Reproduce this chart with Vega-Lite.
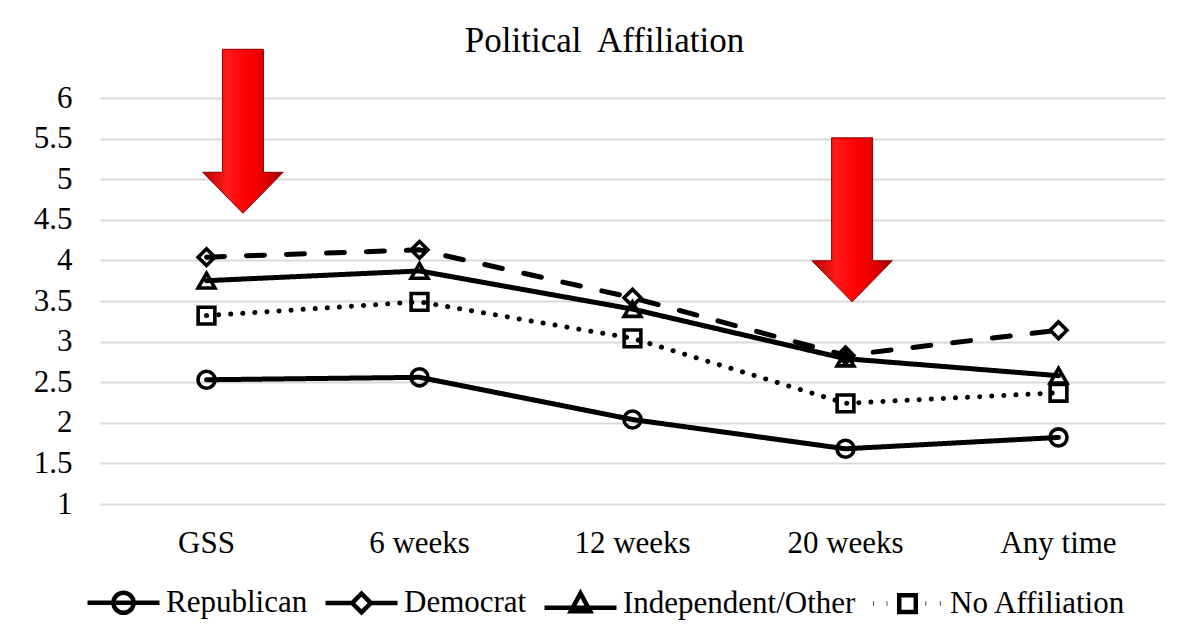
{
  "$schema": "https://vega.github.io/schema/vega-lite/v6.json",
  "autosize": {"type": "none"},
  "width": 1065,
  "height": 406,
  "padding": {"left": 100, "top": 98, "right": 36, "bottom": 137},
  "background": "white",
  "title": {
    "text": "Political\u00a0 Affiliation",
    "font": "Liberation Serif",
    "fontSize": 35,
    "fontWeight": "normal",
    "color": "black",
    "anchor": "middle",
    "frame": "group",
    "dx": -28,
    "offset": -40,
    "baseline": "alphabetic"
  },
  "config": {
    "view": {"stroke": null},
    "axis": {"labelFont": "Liberation Serif", "labelFontSize": 31, "labelColor": "black", "titleFont": "Liberation Serif"},
    "legend": {"labelFont": "Liberation Serif", "labelFontSize": 31, "labelColor": "black"}
  },
  "datasets": {
    "series": [
      {"time": "GSS", "group": "Republican", "value": 2.53},
      {"time": "6 weeks", "group": "Republican", "value": 2.56},
      {"time": "12 weeks", "group": "Republican", "value": 2.04},
      {"time": "20 weeks", "group": "Republican", "value": 1.68},
      {"time": "Any time", "group": "Republican", "value": 1.82},
      {"time": "GSS", "group": "Democrat", "value": 4.04},
      {"time": "6 weeks", "group": "Democrat", "value": 4.13},
      {"time": "12 weeks", "group": "Democrat", "value": 3.54},
      {"time": "20 weeks", "group": "Democrat", "value": 2.83},
      {"time": "Any time", "group": "Democrat", "value": 3.14},
      {"time": "GSS", "group": "Independent/Other", "value": 3.75},
      {"time": "6 weeks", "group": "Independent/Other", "value": 3.87},
      {"time": "12 weeks", "group": "Independent/Other", "value": 3.40},
      {"time": "20 weeks", "group": "Independent/Other", "value": 2.79},
      {"time": "Any time", "group": "Independent/Other", "value": 2.58},
      {"time": "GSS", "group": "No Affiliation", "value": 3.32},
      {"time": "6 weeks", "group": "No Affiliation", "value": 3.49},
      {"time": "12 weeks", "group": "No Affiliation", "value": 3.04},
      {"time": "20 weeks", "group": "No Affiliation", "value": 2.24},
      {"time": "Any time", "group": "No Affiliation", "value": 2.37}
    ],
    "arrows": [
      {"time": "GSS", "value": 5.59, "shift": 0.671},
      {"time": "20 weeks", "value": 4.5, "shift": 0.531}
    ]
  },
  "encoding": {
    "x": {
      "field": "time",
      "type": "nominal",
      "sort": ["GSS", "6 weeks", "12 weeks", "20 weeks", "Any time"],
      "scale": {"type": "band", "paddingInner": 0, "paddingOuter": 0, "domain": ["GSS", "6 weeks", "12 weeks", "20 weeks", "Any time"]},
      "axis": {"title": null, "domain": false, "ticks": false, "grid": false, "labelAngle": 0, "labelPadding": 24}
    },
    "y": {
      "field": "value",
      "type": "quantitative",
      "scale": {"domain": [1, 6], "nice": false, "zero": false},
      "axis": {
        "title": null,
        "values": [1, 1.5, 2, 2.5, 3, 3.5, 4, 4.5, 5, 5.5, 6],
        "format": "~g",
        "domain": false,
        "ticks": false,
        "grid": true,
        "gridColor": "#d9d9d9",
        "gridWidth": 2,
        "labelPadding": 28
      }
    }
  },
  "layer": [
    {
      "data": {"name": "series"},
      "mark": {"type": "line", "color": "black", "strokeWidth": 5, "strokeCap": "round"},
      "encoding": {
        "detail": {"field": "group"},
        "strokeDash": {
          "field": "group",
          "type": "nominal",
          "sort": "ascending",
          "scale": {"range": [[18, 22], [1, 0], [0.1, 12], [1, 0]]},
          "legend": null
        }
      }
    },
    {
      "data": {"name": "series"},
      "transform": [{"filter": "datum.group === 'Republican'"}],
      "mark": {"type": "point", "shape": "circle", "filled": false, "color": "black", "strokeWidth": 3.6, "size": 290, "opacity": 1}
    },
    {
      "data": {"name": "series"},
      "transform": [{"filter": "datum.group === 'Democrat'"}],
      "mark": {"type": "point", "shape": "diamond", "filled": false, "color": "black", "strokeWidth": 3.6, "size": 280, "opacity": 1}
    },
    {
      "data": {"name": "series"},
      "transform": [{"filter": "datum.group === 'Independent/Other'"}],
      "mark": {"type": "point", "shape": "triangle-up", "filled": false, "color": "black", "strokeWidth": 3.6, "size": 280, "opacity": 1}
    },
    {
      "data": {"name": "series"},
      "transform": [{"filter": "datum.group === 'No Affiliation'"}],
      "mark": {"type": "point", "shape": "square", "filled": false, "color": "black", "strokeWidth": 3.6, "size": 280, "opacity": 1}
    },
    {
      "data": {"name": "series"},
      "mark": {"type": "point", "filled": false, "color": "black", "opacity": 0},
      "encoding": {
        "shape": {
          "field": "group",
          "type": "nominal",
          "scale": {
            "domain": ["Republican", "Democrat", "Independent/Other", "No Affiliation"],
            "range": [
              "M-1,0L1,0M0.28,0A0.28,0.28 0 1,1 -0.28,0A0.28,0.28 0 1,1 0.28,0Z",
              "M-1,0L-0.26,0M0.26,0L1,0M0,-0.26L0.26,0L0,0.26L-0.26,0Z",
              "M-1,0.1L1,0.1M0,-0.3L0.27,0.2L-0.27,0.2Z",
              "M-0.95,0L-0.93,0M-0.58,0L-0.56,0M0.5,0L0.52,0M0.9,0L0.92,0M-0.23,-0.23L0.23,-0.23L0.23,0.23L-0.23,0.23Z"
            ]
          },
          "legend": {
            "title": null,
            "orient": "none",
            "direction": "horizontal",
            "legendX": -15,
            "legendY": 466,
            "padding": 0,
            "symbolSize": 5184,
            "symbolStrokeWidth": 4.5,
            "symbolStrokeColor": "black",
            "symbolFillColor": "white",
            "symbolOpacity": 1,
            "labelFont": "Liberation Serif",
            "labelFontSize": 31,
            "labelColor": "black",
            "labelLimit": 0,
            "labelOffset": 4,
            "columnPadding": 8,
            "encode": {
              "symbols": {
                "update": {
                  "strokeCap": {"value": "round"},
                  "opacity": {"value": 1}
                }
              }
            }
          }
        }
      }
    },
    {
      "data": {"name": "arrows"},
      "mark": {
        "type": "point",
        "filled": true,
        "shape": "M-0.25,-1L0.25,-1L0.25,0.5L0.49,0.5L0,1L-0.49,0.5L-0.25,0.5Z",
        "size": 26896,
        "fill": {
          "gradient": "linear",
          "x1": 0, "y1": 0, "x2": 1, "y2": 0,
          "stops": [
            {"offset": 0, "color": "#b80000"},
            {"offset": 0.3, "color": "#ff1a1a"},
            {"offset": 0.55, "color": "#ff0000"},
            {"offset": 0.8, "color": "#e00000"},
            {"offset": 1, "color": "#9a0000"}
          ]
        },
        "stroke": "#8a0000",
        "strokeWidth": 1,
        "opacity": 1
      },
      "encoding": {
        "xOffset": {"field": "shift", "type": "quantitative", "scale": {"domain": [0, 1], "range": [0, 213]}}
      }
    }
  ]
}
